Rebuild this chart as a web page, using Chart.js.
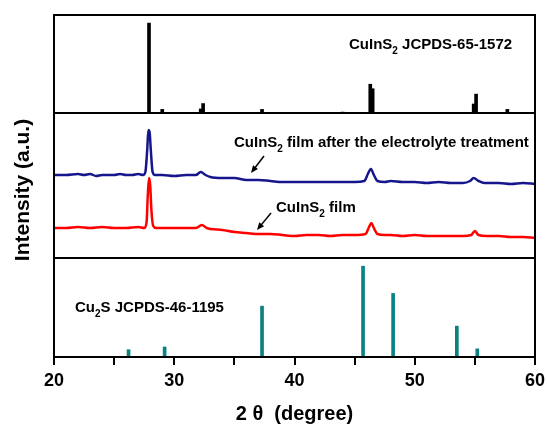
<!DOCTYPE html>
<html>
<head>
<meta charset="utf-8">
<script src="https://cdn.jsdelivr.net/npm/chart.js@4"></script>
<style>
  body { margin: 0; background: #fff; }
  #wrap { position: relative; width: 547px; height: 425px; }
  #wrap canvas { position: absolute; left: 0; top: 0; }
</style>
</head>
<body>
<div id="wrap">
  <canvas id="topChart" width="547" height="425"></canvas>
  <canvas id="midChart" width="547" height="425"></canvas>
  <canvas id="botChart" width="547" height="425"></canvas>
</div>
<script>
// === DATA ===
// CuInS2 reference pattern (JCPDS-65-1572)
const cuinsPos = [27.9, 29.0, 32.2, 32.4, 37.3, 44.0, 46.3, 46.5, 54.9, 55.1, 57.7];
const cuinsInt = [100, 4, 4.5, 10.5, 4, 1, 32, 27, 10, 21, 4];

// Cu2S reference pattern (JCPDS-46-1195)
const cu2sPos = [26.2, 29.2, 37.3, 45.7, 48.2, 53.5, 55.2];
const cu2sInt = [8, 11, 56, 100, 70, 34, 9];

// CuInS2 film after the electrolyte treatment (blue)
const treatedX = [20.0, 21.0, 22.0, 22.5, 23.0, 23.5, 24.0, 25.0, 25.5, 26.0, 26.5, 27.0, 27.4, 27.6, 27.75, 27.85, 27.95, 28.05, 28.2, 28.4,
  29.0, 30.0, 31.0, 31.8, 32.2, 32.6, 33.0, 34.0, 35.0, 36.0, 37.0, 38.0, 39.0, 40.0, 41.0, 42.0, 43.0, 44.0, 45.0, 45.8,
  46.1, 46.35, 46.6, 46.9, 47.5, 48.0, 49.0, 50.0, 51.0, 52.0, 53.0, 54.0, 54.6, 54.9, 55.3, 55.8, 57.0, 58.0, 59.0, 60.0];
const treatedY = [83, 83, 84, 83, 84, 82, 83, 83, 84, 83, 83, 84, 83, 86, 108, 128, 126, 108, 86, 83,
  83, 82, 83, 83, 86, 83, 81, 80, 80, 78, 78, 77, 76, 76, 76, 76, 76, 76, 76, 77,
  84, 89, 83, 77, 76, 77, 76, 76, 75, 76, 75, 75, 77, 80, 77, 75, 75, 74, 75, 74];

// CuInS2 film (red)
const filmX = [20.0, 21.0, 22.0, 23.0, 24.0, 25.0, 26.0, 27.0, 27.5, 27.7, 27.8, 27.9, 28.0, 28.1, 28.25, 28.5,
  29.0, 30.0, 31.0, 31.8, 32.3, 32.7, 33.0, 34.0, 35.0, 36.0, 37.0, 38.0, 39.0, 40.0, 41.0, 42.0, 43.0, 44.0, 45.0, 45.9,
  46.2, 46.4, 46.6, 46.9, 47.5, 48.0, 49.0, 50.0, 51.0, 52.0, 53.0, 54.0, 54.7, 55.0, 55.3, 56.0, 57.0, 58.0, 59.0, 60.0];
const filmY = [30, 30, 31, 30, 31, 30, 30, 31, 30, 36, 63, 80, 73, 48, 32, 30,
  30, 30, 30, 30, 33, 30, 29, 28, 26, 25, 24, 24, 23, 22, 23, 23, 22, 23, 23, 24,
  31, 35, 30, 24, 23, 23, 22, 23, 22, 22, 22, 22, 23, 27, 23, 22, 22, 21, 21, 20];

const xTicks = [20, 30, 40, 50, 60];

const toPoints = (xs, ys) => xs.map((x, i) => ({ x: x, y: ys[i] }));

const FONT = "'Liberation Sans', Arial, sans-serif";
const LABEL_SIZE = 15;

// rich text with subscripts
function drawRich(ctx, x, y, parts, size) {
  let cx = x;
  ctx.textBaseline = 'middle';
  ctx.textAlign = 'left';
  ctx.fillStyle = '#000';
  parts.forEach(p => {
    const s = p.sub ? Math.round(size * 0.65) : size;
    ctx.font = 'bold ' + s + 'px ' + FONT;
    ctx.fillText(p.t, cx, p.sub ? y + size * 0.4 : y);
    cx += ctx.measureText(p.t).width;
  });
}

function drawArrow(ctx, x1, y1, x2, y2) {
  const a = Math.atan2(y2 - y1, x2 - x1);
  ctx.strokeStyle = '#000';
  ctx.fillStyle = '#000';
  ctx.lineWidth = 1.5;
  ctx.beginPath();
  ctx.moveTo(x1, y1);
  ctx.lineTo(x2 - 5 * Math.cos(a), y2 - 5 * Math.sin(a));
  ctx.stroke();
  ctx.beginPath();
  ctx.moveTo(x2, y2);
  ctx.lineTo(x2 - 8 * Math.cos(a - 0.4), y2 - 8 * Math.sin(a - 0.4));
  ctx.lineTo(x2 - 8 * Math.cos(a + 0.4), y2 - 8 * Math.sin(a + 0.4));
  ctx.closePath();
  ctx.fill();
}

const frame = {
  id: 'frame',
  afterDraw(chart) {
    const { ctx, chartArea: a } = chart;
    ctx.save();
    ctx.strokeStyle = '#000';
    ctx.lineWidth = 2;
    ctx.strokeRect(a.left, a.top, a.right - a.left, a.bottom - a.top);
    ctx.restore();
  }
};

const hiddenX = { type: 'linear', min: 20, max: 60, offset: false, display: false };

// === TOP PANEL ===
new Chart(document.getElementById('topChart'), {
  type: 'bar',
  data: { datasets: [{ data: toPoints(cuinsPos, cuinsInt), backgroundColor: '#000', barThickness: 3 }] },
  options: {
    responsive: false, animation: false,
    layout: { padding: { left: 54, right: 12, top: 15, bottom: 312 } },
    plugins: { legend: { display: false }, tooltip: { enabled: false } },
    scales: { x: hiddenX, y: { min: 0, max: 109, display: false } }
  },
  plugins: [frame, {
    id: 'topLabel',
    afterDraw(chart) {
      const ctx = chart.ctx;
      ctx.save();
      drawRich(ctx, 349, 45, [{ t: 'CuInS' }, { t: '2', sub: true }, { t: ' JCPDS-65-1572' }], LABEL_SIZE);
      ctx.restore();
    }
  }]
});

// === MIDDLE PANEL ===
new Chart(document.getElementById('midChart'), {
  type: 'line',
  data: {
    datasets: [
      { data: toPoints(treatedX, treatedY), borderColor: '#16168c', borderWidth: 2.5, pointRadius: 0, cubicInterpolationMode: 'monotone' },
      { data: toPoints(filmX, filmY), borderColor: '#ff0000', borderWidth: 2.5, pointRadius: 0, cubicInterpolationMode: 'monotone' }
    ]
  },
  options: {
    responsive: false, animation: false,
    layout: { padding: { left: 54, right: 12, top: 113, bottom: 167 } },
    plugins: { legend: { display: false }, tooltip: { enabled: false } },
    scales: { x: hiddenX, y: { min: 0, max: 145, display: false } }
  },
  plugins: [frame, {
    id: 'midLabels',
    afterDraw(chart) {
      const ctx = chart.ctx;
      ctx.save();
      drawRich(ctx, 234, 143, [{ t: 'CuInS' }, { t: '2', sub: true }, { t: ' film after the electrolyte treatment' }], LABEL_SIZE);
      drawRich(ctx, 276, 208, [{ t: 'CuInS' }, { t: '2', sub: true }, { t: ' film' }], LABEL_SIZE);
      drawArrow(ctx, 264, 156, 251, 173);
      drawArrow(ctx, 271, 213, 257, 230);
      // y axis title, shared by the three panels
      ctx.translate(23, 190);
      ctx.rotate(-Math.PI / 2);
      ctx.font = 'bold 21px ' + FONT;
      ctx.textAlign = 'center';
      ctx.textBaseline = 'middle';
      ctx.fillStyle = '#000';
      ctx.fillText('Intensity (a.u.)', 0, 0);
      ctx.restore();
    }
  }]
});

// === BOTTOM PANEL ===
const isMajor = v => xTicks.includes(v);

new Chart(document.getElementById('botChart'), {
  type: 'bar',
  data: { datasets: [{ data: toPoints(cu2sPos, cu2sInt), backgroundColor: '#0a8282', barThickness: 3 }] },
  options: {
    responsive: false, animation: false,
    layout: { padding: { left: 54, right: 12, top: 258, bottom: 0 } },
    plugins: { legend: { display: false }, tooltip: { enabled: false } },
    scales: {
      x: {
        type: 'linear', min: 20, max: 60, offset: false,
        ticks: {
          stepSize: 5, autoSkip: false, maxRotation: 0, padding: 5, color: '#000',
          font: { family: FONT, size: 18, weight: 'bold' },
          callback: v => isMajor(v) ? v : ''
        },
        grid: { offset: false, drawOnChartArea: false, tickLength: 8, lineWidth: 2, tickColor: '#000' },
        border: { color: '#000', width: 2 },
        title: { display: true, text: '2 θ  (degree)', color: '#000', font: { family: FONT, size: 20, weight: 'bold' }, padding: { top: 0, bottom: -1 } },
        afterFit(scale) {
          scale.height = 68;
          scale.paddingLeft = 0;
          scale.paddingRight = 0;
        }
      },
      y: { min: 0, max: 109, display: false }
    }
  },
  plugins: [frame, {
    id: 'botLabel',
    afterDraw(chart) {
      const ctx = chart.ctx;
      ctx.save();
      drawRich(ctx, 75, 308, [{ t: 'Cu' }, { t: '2', sub: true }, { t: 'S JCPDS-46-1195' }], LABEL_SIZE);
      ctx.restore();
    }
  }]
});
</script>
</body>
</html>
